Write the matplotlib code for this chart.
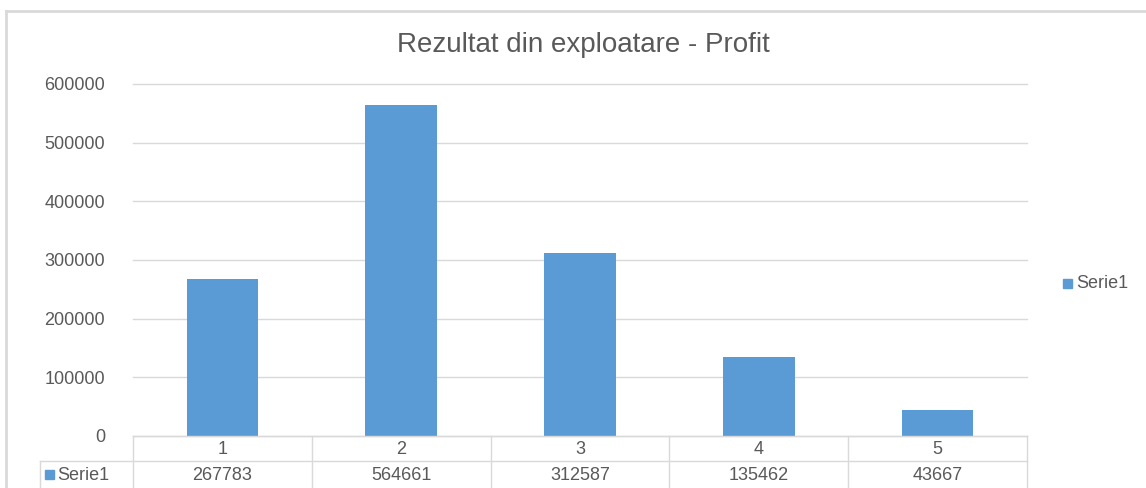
import matplotlib.pyplot as plt
from matplotlib.lines import Line2D
from matplotlib.patches import Rectangle

# date
categorii = ['1', '2', '3', '4', '5']
profit = [267783, 564661, 312587, 135462, 43667]
serie = 'Serie1'
titlu = 'Rezultat din exploatare - Profit'

W, H = 1146, 488
albastru = '#5B9BD5'
gri_text = '#595959'
gri_linie = '#D9D9D9'

plt.rcParams['font.family'] = ['Liberation Sans', 'DejaVu Sans']

fig = plt.figure(figsize=(W / 100, H / 100), dpi=100)


def fx(px):
    return px / W


def fy(py):
    return 1 - py / H


# zona graficului (coordonate in pixeli din imagine)
x0, x1 = 133, 1027
y_top, y_zero = 84, 436
ax = fig.add_axes([fx(x0), fy(y_zero), fx(x1) - fx(x0), (y_zero - y_top) / H])

poz = list(range(len(categorii)))
ax.bar(poz, profit, width=0.4, color=albastru, zorder=3)
ax.set_xlim(-0.5, len(categorii) - 0.5)
ax.set_ylim(0, 600000)
ax.set_yticks(range(0, 600001, 100000))
ax.set_yticklabels([str(v) for v in range(0, 600001, 100000)])
ax.tick_params(axis='y', length=0, pad=20, labelsize=13, labelcolor=gri_text)
ax.set_xticks([])
ax.grid(axis='y', color=gri_linie, linewidth=1, zorder=0)
for s in ax.spines.values():
    s.set_visible(False)
for gl in ax.get_ygridlines():
    gl.set_clip_on(False)

# titlu
fig.text(fx(583), fy(45), titlu, ha='center', va='center', fontsize=20, color=gri_text)

# chenarul graficului
fig.add_artist(Line2D([fx(6), fx(6)], [fy(11), 0], color=gri_linie, linewidth=2))
fig.add_artist(Line2D([fx(6), 1], [fy(11), fy(11)], color=gri_linie, linewidth=2))

# tabel de date sub grafic
col_w = (x1 - x0) / len(categorii)
fig.add_artist(Line2D([fx(x0), fx(x1)], [fy(436), fy(436)], color=gri_linie, linewidth=1))
fig.add_artist(Line2D([fx(40), fx(x1)], [fy(461), fy(461)], color=gri_linie, linewidth=1))
fig.add_artist(Line2D([fx(40), fx(40)], [fy(461), 0], color=gri_linie, linewidth=1))
for i in range(len(categorii) + 1):
    xl = x0 + i * col_w
    fig.add_artist(Line2D([fx(xl), fx(xl)], [fy(436), 0], color=gri_linie, linewidth=1))
for i, (c, v) in enumerate(zip(categorii, profit)):
    xc = x0 + (i + 0.5) * col_w
    fig.text(fx(xc), fy(449), c, ha='center', va='center', fontsize=13, color=gri_text)
    fig.text(fx(xc), fy(475), str(v), ha='center', va='center', fontsize=13, color=gri_text)
fig.add_artist(Rectangle((fx(45), fy(479)), fx(9), 9 / H, color=albastru))
fig.text(fx(57), fy(475), serie, ha='left', va='center', fontsize=13, color=gri_text)

# legenda
fig.add_artist(Rectangle((fx(1063), fy(288)), fx(9), 9 / H, color=albastru))
fig.text(fx(1076), fy(284), serie, ha='left', va='center', fontsize=13, color=gri_text)

fig.savefig('out.png', dpi=100)
